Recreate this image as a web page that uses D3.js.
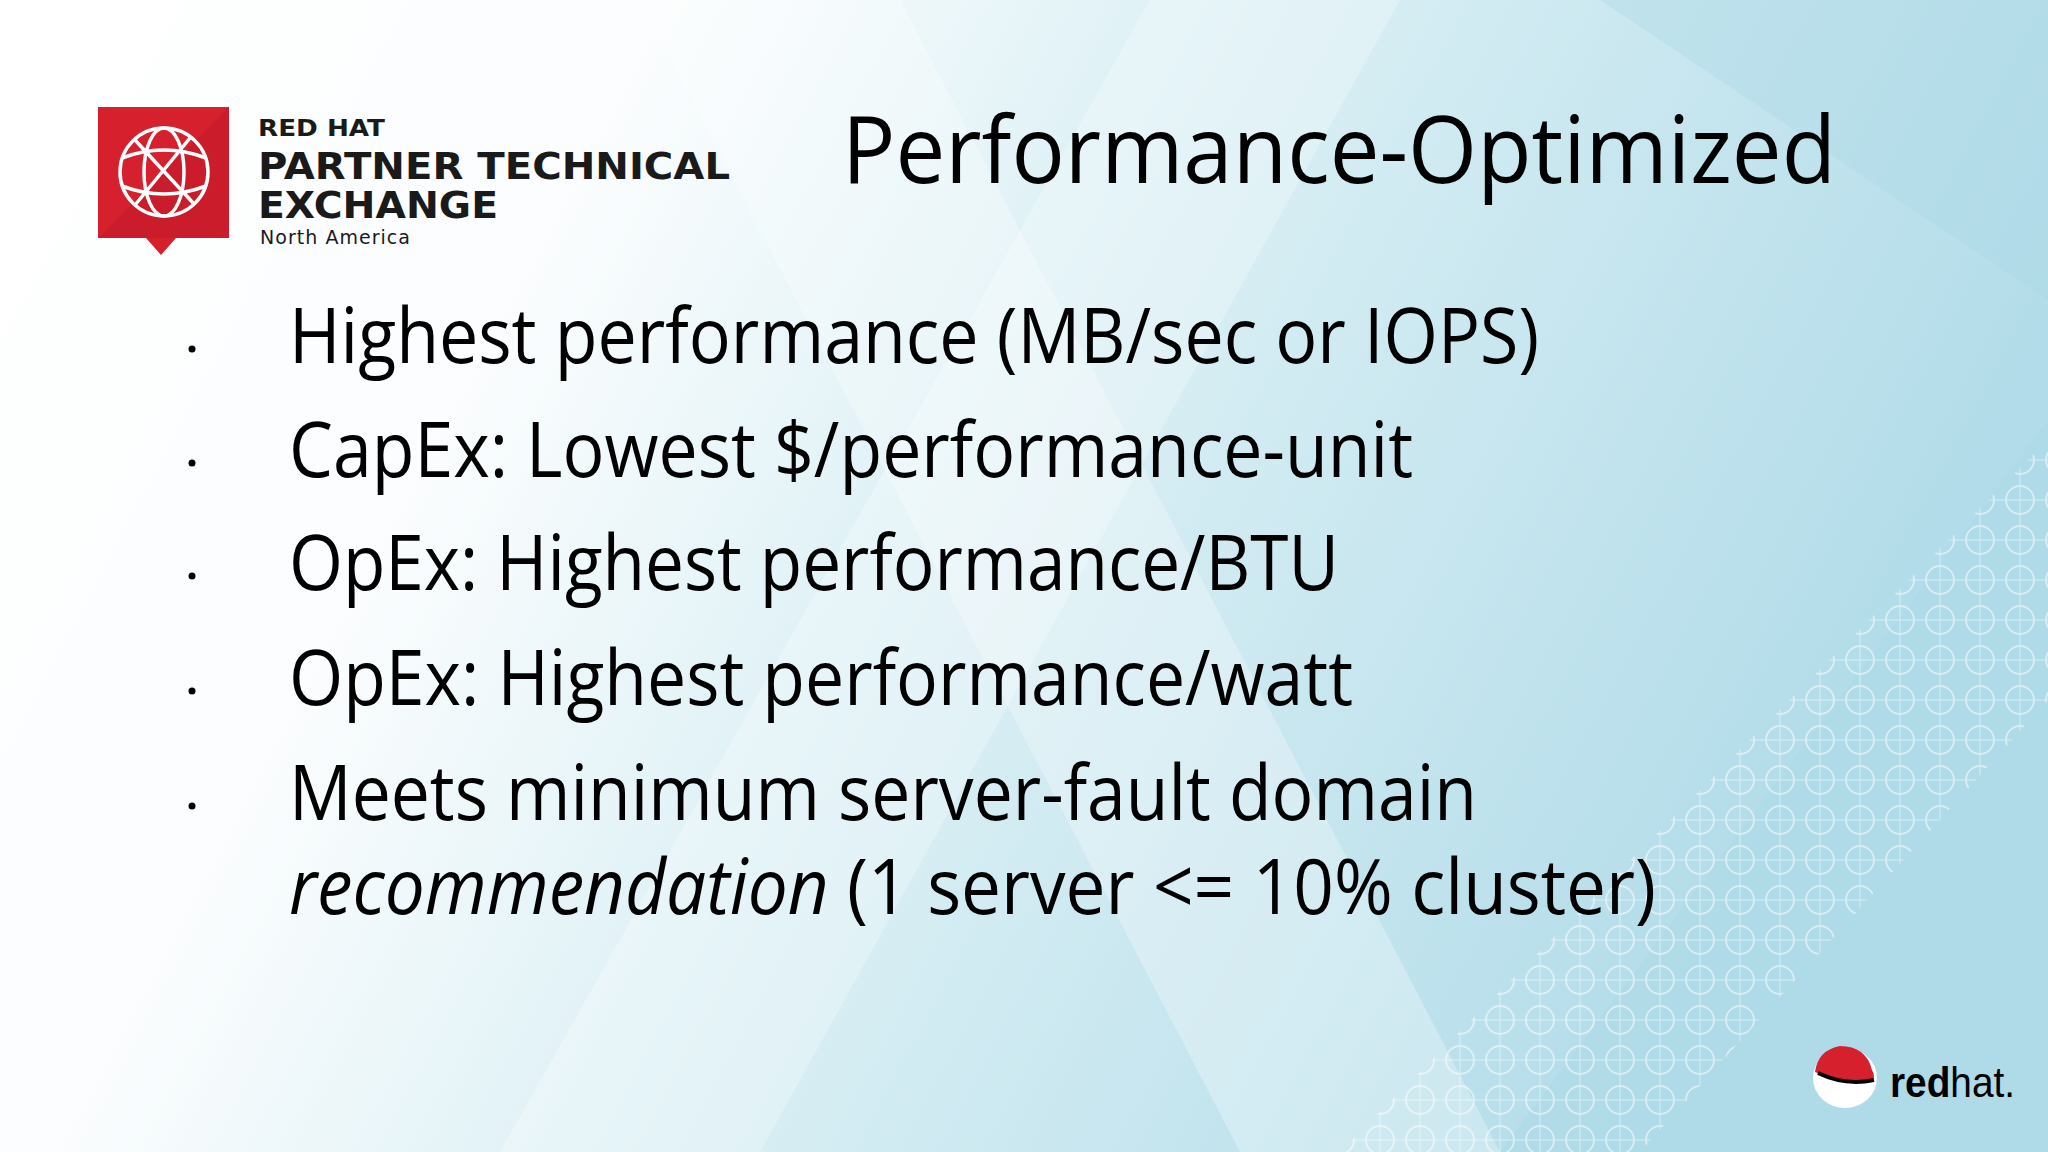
<!DOCTYPE html>
<html><head><meta charset="utf-8">
<script src="https://cdn.jsdelivr.net/npm/d3@7"></script>
<style>body{margin:0;overflow:hidden}svg{display:block}</style>
</head><body>
<script>
const title = "Performance-Optimized";
const bulletLines = [
  {parts:[{t:"Highest performance (MB/sec or IOPS)"}], bullet:true, end:1539},
  {parts:[{t:"CapEx: Lowest $/performance-unit"}], bullet:true, end:1413},
  {parts:[{t:"OpEx: Highest performance/BTU"}], bullet:true, end:1339},
  {parts:[{t:"OpEx: Highest performance/watt"}], bullet:true, end:1353},
  {parts:[{t:"Meets minimum server-fault domain"}], bullet:true, end:1477},
  {parts:[{t:"recommendation",i:true},{t:" (1 server <= 10% cluster)"}], bullet:false, end:1656}
];
const baselines = [363,477,590,705,820,914];
const logoLines = ["RED HAT","PARTNER TECHNICAL","EXCHANGE","North America"];

const W=2048,H=1152;
const svg=d3.select("body").append("svg").attr("width",W).attr("height",H);
const defs=svg.append("defs");
const g=defs.append("linearGradient").attr("id","bg").attr("x1","0").attr("y1","0").attr("x2","1").attr("y2","0.3");
[[0,"#ffffff"],[0.3,"#fbfdfe"],[0.55,"#dcf0f5"],[1,"#b2dce9"]].forEach(s=>g.append("stop").attr("offset",s[0]).attr("stop-color",s[1]));
svg.append("rect").attr("width",W).attr("height",H).attr("fill","url(#bg)");
const bands=[
 [[640,0],[900,0],[1500,1152],[1240,1152]],
 [[1150,0],[1400,0],[760,1152],[500,1152]],
 [[1600,0],[2048,0],[2048,300]],
 [[2048,420],[2048,1152],[1500,1152]]
];
bands.forEach((p,i)=>svg.append("polygon").attr("points",p.map(d=>d.join(",")).join(" "))
  .attr("fill",i<2?"#ffffff":"#a8d6e6").attr("opacity",i<2?0.28:0.35));
const pat=defs.append("pattern").attr("id","circ").attr("width",40).attr("height",40).attr("patternUnits","userSpaceOnUse");
pat.append("circle").attr("cx",20).attr("cy",20).attr("r",14).attr("fill","none").attr("stroke","#ffffff").attr("stroke-width",2);
pat.append("path").attr("d","M20 0V40M0 20H40").attr("stroke","#ffffff").attr("stroke-width",1);
svg.append("polygon").attr("points","2048,440 2048,700 1640,1152 1340,1152").attr("fill","url(#circ)").attr("opacity",0.5);

svg.append("path").attr("d","M98 107H229V238H176L161 255L146 238H98Z").attr("fill","#d7202e");
svg.append("path").attr("d","M98 238L229 107V238Z").attr("fill","#c11b28").attr("opacity",0.6);
const lg=svg.append("g").attr("fill","none").attr("stroke","#fff").attr("stroke-width",3.5);
lg.append("circle").attr("cx",164).attr("cy",172).attr("r",44);
lg.append("ellipse").attr("cx",164).attr("cy",172).attr("rx",20).attr("ry",44);
lg.append("path").attr("d","M122 158Q164 142 206 158M122 186Q164 202 206 186M135 140L195 205M135 205L190 138");
const lt=svg.append("g").attr("fill","#1a1a1a").attr("font-family","DejaVu Sans").attr("font-weight","bold");
lt.append("text").attr("x",258).attr("y",136).attr("font-size",23).attr("textLength",127).attr("lengthAdjust","spacingAndGlyphs").text(logoLines[0]);
lt.append("text").attr("x",258).attr("y",179).attr("font-size",37).attr("textLength",472).attr("lengthAdjust","spacingAndGlyphs").text(logoLines[1]);
lt.append("text").attr("x",258).attr("y",218).attr("font-size",37).attr("textLength",240).attr("lengthAdjust","spacingAndGlyphs").text(logoLines[2]);
lt.append("text").attr("x",260).attr("y",244).attr("font-size",19).attr("font-weight","normal").attr("textLength",150).text(logoLines[3]);

svg.append("text").attr("x",842).attr("y",183).attr("font-family","Open Sans").attr("font-size",94)
  .attr("fill","#000").attr("textLength",994).attr("lengthAdjust","spacingAndGlyphs").text(title);

const bl=svg.append("g").attr("font-family","Open Sans").attr("fill","#000");
bulletLines.forEach((l,i)=>{
  if(l.bullet) bl.append("circle").attr("cx",192).attr("cy",baselines[i]-14).attr("r",3.5);
  const t=bl.append("text").attr("x",289).attr("y",baselines[i]).attr("font-size",76)
    .attr("textLength",l.end-289).attr("lengthAdjust","spacingAndGlyphs");
  l.parts.forEach(p=>t.append("tspan").attr("font-style",p.i?"italic":"normal").text(p.t));
});

const rh=svg.append("g");
rh.append("ellipse").attr("cx",1845).attr("cy",1078).attr("rx",32).attr("ry",30).attr("fill","#fff");
rh.append("path").attr("d","M1815 1072Q1818 1050 1840 1046Q1866 1046 1872 1070Q1878 1082 1866 1082Q1840 1084 1815 1072Z").attr("fill","#d7202e");
rh.append("path").attr("d","M1818 1073Q1845 1086 1874 1080").attr("stroke","#000").attr("stroke-width",4).attr("fill","none");
const rt=rh.append("text").attr("x",1890).attr("y",1097).attr("font-family","Liberation Sans").attr("font-size",42).attr("fill","#000")
  .attr("textLength",125).attr("lengthAdjust","spacingAndGlyphs");
rt.append("tspan").attr("font-weight","bold").text("red");
rt.append("tspan").text("hat.");
</script>
</body></html>
